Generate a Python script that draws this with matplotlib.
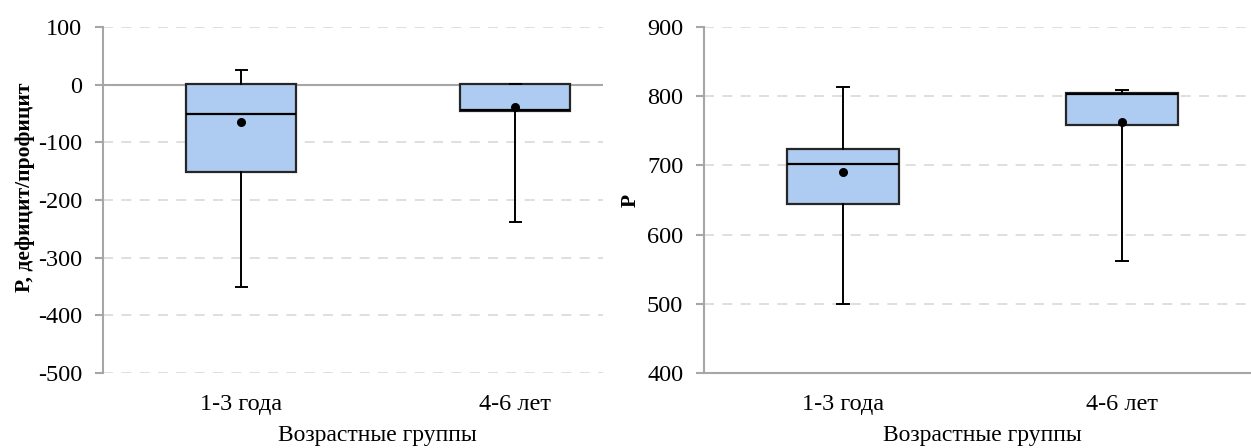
import matplotlib
matplotlib.use("Agg")
import matplotlib.pyplot as plt

# ---- data ----
categories = ["1-3 года", "4-6 лет"]

# Left chart: P deficit/proficit
left_whislo = [-351, -238]
left_q1 = [-152, -45]
left_med = [-51, -44]
left_q3 = [2, 2]
left_whishi = [25, 2]
left_mean = [-65, -38]
left_ticks = [100, 0, -100, -200, -300, -400, -500]

# Right chart: P
right_whislo = [500, 562]
right_q1 = [644, 758]
right_med = [702, 803]
right_q3 = [724, 804]
right_whishi = [814, 809]
right_mean = [690, 762]
right_ticks = [900, 800, 700, 600, 500, 400]

xlabel = "Возрастные группы"
left_ylabel = "Р, дефицит/профицит"
right_ylabel = "Р"

plt.rcParams['font.family'] = ['Liberation Serif', 'DejaVu Serif']
plt.rcParams['axes.unicode_minus'] = False

W, H = 1251, 448
fig = plt.figure(figsize=(W / 100, H / 100), dpi=100)

ax1 = fig.add_axes([103 / W, (H - 373) / H, 500 / W, 346 / H])
ax2 = fig.add_axes([704 / W, (H - 373) / H, 547 / W, 346 / H])

box_fill = "#AECBF1"
edge = "#262626"
grid_c = "#D9D9D9"
axis_c = "#A6A6A6"
FS = 17.5


def draw(ax, wlo, q1, med, q3, whi, mean, ticks, ylabel, xlim, zero_line,
         ylab_pad, ylab_y, xlab_x):
    stats = []
    for i in range(len(categories)):
        stats.append(dict(whislo=wlo[i], q1=q1[i], med=med[i], q3=q3[i],
                          whishi=whi[i], fliers=[], label=categories[i]))
    ax.bxp(stats, positions=range(len(categories)), widths=0.40,
           patch_artist=True, showfliers=False,
           boxprops=dict(facecolor=box_fill, edgecolor=edge, linewidth=1.6),
           medianprops=dict(color="black", linewidth=1.6),
           whiskerprops=dict(color="black", linewidth=1.4),
           capprops=dict(color="black", linewidth=1.4),
           capwidths=0.04, zorder=3)
    ax.scatter(range(len(categories)), mean, s=30, color="black", zorder=5)
    ax.set_ylim(min(ticks), max(ticks))
    ax.set_yticks(ticks)
    ax.set_xlim(*xlim)
    ax.set_xticks(range(len(categories)))
    ax.set_xticklabels(categories, fontsize=FS)
    ax.tick_params(axis='x', length=0, pad=15)
    ax.tick_params(axis='y', length=6, width=1.5, color=axis_c, labelsize=FS, pad=9)
    for t in ticks:
        if zero_line and t == 0:
            continue
        ax.axhline(t, color=grid_c, linestyle=(0, (6, 5)), linewidth=1.2, zorder=0)
    if zero_line:
        ax.axhline(0, color=axis_c, linewidth=1.5, zorder=1)
    for s in ["top", "right"]:
        ax.spines[s].set_visible(False)
    ax.spines["left"].set_color(axis_c)
    ax.spines["left"].set_linewidth(1.5)
    if zero_line:
        ax.spines["bottom"].set_visible(False)
    else:
        ax.spines["bottom"].set_color(axis_c)
        ax.spines["bottom"].set_linewidth(1.5)
    ax.set_ylabel(ylabel, fontsize=15.5, fontweight="bold", labelpad=ylab_pad)
    ax.yaxis.label.set_y(ylab_y)
    ax.set_xlabel(xlabel, fontsize=17, labelpad=7.5)
    ax.xaxis.label.set_x(xlab_x)
    ax.set_facecolor("white")


draw(ax1, left_whislo, left_q1, left_med, left_q3, left_whishi, left_mean,
     left_ticks, left_ylabel, (-0.504, 1.321), True, 2.2, 0.538, 0.549)
draw(ax2, right_whislo, right_q1, right_med, right_q3, right_whishi, right_mean,
     right_ticks, right_ylabel, (-0.498, 1.462), False, 4.4, 0.5, 0.508)

fig.savefig("out.png", dpi=100, facecolor="white")
